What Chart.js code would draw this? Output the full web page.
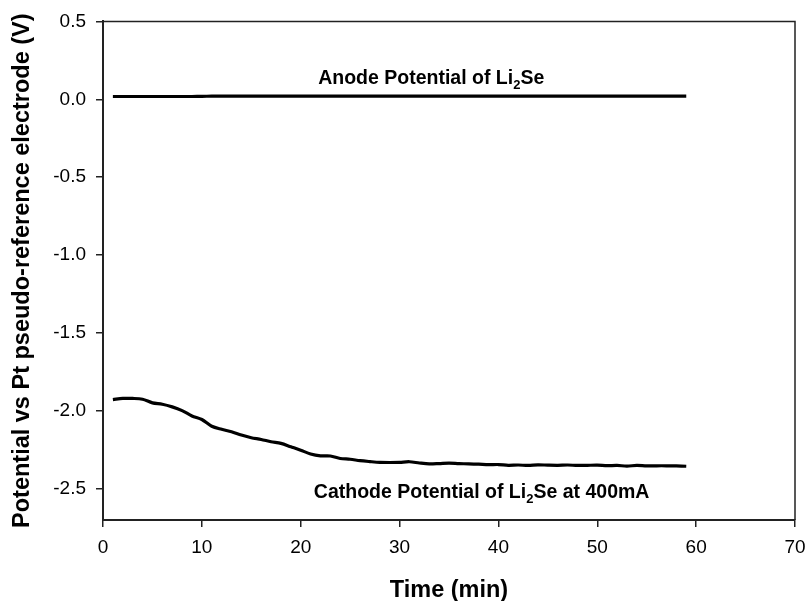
<!DOCTYPE html>
<html>
<head>
<meta charset="utf-8">
<script src="https://cdn.jsdelivr.net/npm/chart.js@4"></script>
<style>
  html, body { margin: 0; padding: 0; background: #fff; }
  #wrap { width: 807px; height: 601px; }
</style>
</head>
<body>
<div id="wrap"><canvas id="potChart" width="807" height="601"></canvas></div>
<script>
// time in minutes
const times = [];
for (let t = 1; t <= 59; t++) times.push(t);

const anodeValues = [
  0.018, 0.018, 0.018, 0.018, 0.018, 0.018, 0.018, 0.018, 0.018, 0.019,
  0.020, 0.020, 0.020, 0.020, 0.020, 0.020, 0.020, 0.021, 0.021, 0.021,
  0.021, 0.021, 0.021, 0.021, 0.021, 0.021, 0.021, 0.021, 0.021, 0.021,
  0.021, 0.021, 0.021, 0.021, 0.021, 0.021, 0.021, 0.021, 0.021, 0.021,
  0.021, 0.021, 0.021, 0.021, 0.021, 0.021, 0.021, 0.021, 0.021, 0.021,
  0.021, 0.021, 0.021, 0.021, 0.021, 0.021, 0.021, 0.021, 0.021
];

const cathodeValues = [
  -1.927, -1.920, -1.920, -1.925, -1.948, -1.957, -1.974, -1.998, -2.032, -2.055,
  -2.098, -2.118, -2.134, -2.155, -2.172, -2.183, -2.198, -2.208, -2.230, -2.252,
  -2.276, -2.288, -2.289, -2.305, -2.310, -2.319, -2.325, -2.330, -2.331, -2.330,
  -2.326, -2.334, -2.340, -2.338, -2.335, -2.338, -2.340, -2.342, -2.345, -2.344,
  -2.349, -2.347, -2.350, -2.346, -2.348, -2.349, -2.347, -2.350, -2.349, -2.348,
  -2.351, -2.350, -2.354, -2.350, -2.353, -2.352, -2.352, -2.353, -2.355
];

const xTicks = [0, 10, 20, 30, 40, 50, 60, 70];
const yTicks = [0.5, 0.0, -0.5, -1.0, -1.5, -2.0, -2.5];

// labels placed in data coordinates: [x centre, y baseline, main text, tail after subscript]
const labels = [
  { x: 33.2, y: 0.096, main: 'Anode Potential of Li', sub: '2', tail: 'Se' },
  { x: 38.3, y: -2.557, main: 'Cathode Potential of Li', sub: '2', tail: 'Se at 400mA' }
];

const FONT = '"Liberation Sans", Arial, sans-serif';

const framePlugin = {
  id: 'frame',
  afterDraw(chart) {
    const { ctx, chartArea: a } = chart;
    ctx.save();
    ctx.strokeStyle = '#222';
    ctx.lineWidth = 1.5;
    ctx.beginPath();
    ctx.moveTo(a.left, a.top);
    ctx.lineTo(a.right, a.top);
    ctx.lineTo(a.right, a.bottom);
    ctx.stroke();
    ctx.restore();
  }
};

const labelPlugin = {
  id: 'curveLabels',
  afterDatasetsDraw(chart) {
    const { ctx, scales } = chart;
    ctx.save();
    ctx.fillStyle = '#000';
    ctx.textBaseline = 'alphabetic';
    labels.forEach(l => {
      const bigFont = 'bold 19.5px ' + FONT;
      const smallFont = 'bold 13px ' + FONT;
      ctx.font = bigFont;
      const w1 = ctx.measureText(l.main).width;
      const w3 = ctx.measureText(l.tail).width;
      ctx.font = smallFont;
      const w2 = ctx.measureText(l.sub).width;
      const total = w1 + w2 + w3;
      let x = scales.x.getPixelForValue(l.x) - total / 2;
      const y = scales.y.getPixelForValue(l.y);
      ctx.textAlign = 'left';
      ctx.font = bigFont;
      ctx.fillText(l.main, x, y);
      x += w1;
      ctx.font = smallFont;
      ctx.fillText(l.sub, x, y + 5);
      x += w2;
      ctx.font = bigFont;
      ctx.fillText(l.tail, x, y);
    });
    ctx.restore();
  }
};

const toPoints = vals => vals.map((v, i) => ({ x: times[i], y: v }));

new Chart(document.getElementById('potChart').getContext('2d'), {
  type: 'line',
  data: {
    datasets: [
      {
        label: 'Anode',
        data: toPoints(anodeValues),
        borderColor: '#000',
        borderWidth: 3.2,
        pointRadius: 0,
        tension: 0.3
      },
      {
        label: 'Cathode',
        data: toPoints(cathodeValues),
        borderColor: '#000',
        borderWidth: 3.2,
        pointRadius: 0,
        tension: 0.3
      }
    ]
  },
  options: {
    responsive: false,
    animation: false,
    layout: { padding: { top: 21, right: 12, left: 0, bottom: 0 } },
    plugins: {
      legend: { display: false },
      tooltip: { enabled: false }
    },
    scales: {
      x: {
        type: 'linear',
        min: 0,
        max: 70,
        afterBuildTicks: s => { s.ticks = xTicks.map(v => ({ value: v })); },
        afterFit: s => { s.height = 81; s.paddingLeft = 0; s.paddingRight = 0; },
        border: { color: '#222', width: 2 },
        grid: { drawOnChartArea: false, drawTicks: true, tickLength: 7, color: '#222', lineWidth: 1.5 },
        ticks: {
          color: '#000',
          padding: 9,
          maxRotation: 0,
          font: { family: FONT, size: 19 },
          callback: v => String(v)
        },
        title: {
          display: true,
          text: 'Time (min)',
          color: '#000',
          font: { family: FONT, size: 23.5, weight: 'bold', lineHeight: 0.85 },
          padding: { top: 0, bottom: 0 }
        }
      },
      y: {
        type: 'linear',
        min: -2.7,
        max: 0.5,
        afterBuildTicks: s => { s.ticks = yTicks.map(v => ({ value: v })); },
        afterFit: s => { s.width = 103; },
        border: { color: '#222', width: 2 },
        grid: { drawOnChartArea: false, drawTicks: true, tickLength: 7, color: '#222', lineWidth: 1.5 },
        ticks: {
          color: '#000',
          padding: 10,
          font: { family: FONT, size: 19 },
          callback: v => v.toFixed(1)
        },
        title: {
          display: true,
          text: 'Potential vs Pt pseudo-reference electrode (V)',
          color: '#000',
          font: { family: FONT, size: 23.5, weight: 'bold', lineHeight: 1.1 },
          padding: { top: 10, bottom: 0 }
        }
      }
    }
  },
  plugins: [framePlugin, labelPlugin]
});
</script>
</body>
</html>
